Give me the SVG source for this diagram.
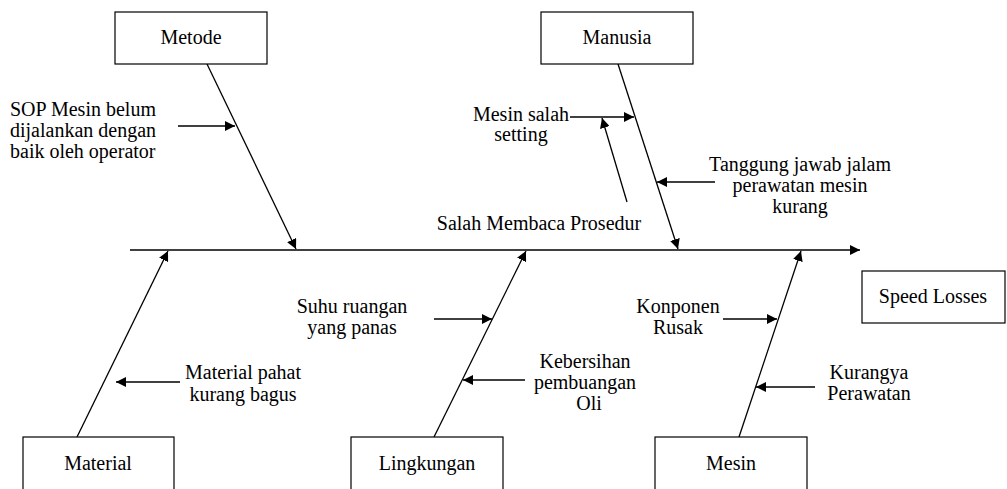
<svg xmlns="http://www.w3.org/2000/svg" width="1007" height="489" viewBox="0 0 1007 489">
<style>
.box{fill:#fff;stroke:#000;stroke-width:1.2}
text{font-family:'Liberation Serif','Tinos','Times New Roman','DejaVu Serif',serif;font-size:20px;fill:#000}
.m{text-anchor:middle}
.ln{stroke:#000;stroke-width:1.3;fill:none;marker-end:url(#ah)}
</style>
<defs>
<marker id="ah" viewBox="0 0 10 10" refX="10" refY="5" markerWidth="10" markerHeight="10" markerUnits="userSpaceOnUse" orient="auto">
<path d="M0,0 L10,5 L0,10 z" fill="#000"/>
</marker>
</defs>
<g id="connectors">
<line class="ln" x1="130" y1="250" x2="860" y2="250"/>
<line class="ln" x1="207" y1="64" x2="296" y2="249"/>
<line class="ln" x1="618" y1="64" x2="678" y2="249"/>
<line class="ln" x1="77" y1="437" x2="168" y2="251"/>
<line class="ln" x1="434" y1="437" x2="526" y2="251"/>
<line class="ln" x1="739" y1="437" x2="801" y2="251"/>
<line class="ln" x1="178" y1="126" x2="235" y2="126"/>
<line class="ln" x1="570" y1="117" x2="634" y2="117"/>
<line class="ln" x1="627" y1="202" x2="602" y2="118"/>
<line class="ln" x1="715" y1="182" x2="657" y2="182"/>
<line class="ln" x1="180" y1="382" x2="116" y2="382"/>
<line class="ln" x1="434" y1="319" x2="492" y2="319"/>
<line class="ln" x1="525" y1="380" x2="463" y2="380"/>
<line class="ln" x1="723" y1="319" x2="777" y2="319"/>
<line class="ln" x1="815" y1="387" x2="756" y2="387"/>
</g>
<g id="metode"><rect class="box" x="115" y="12" width="152" height="52"/><text class="m" x="191" y="44">Metode</text></g>
<g id="manusia"><rect class="box" x="541" y="12" width="152" height="52"/><text class="m" x="617" y="44">Manusia</text></g>
<g id="material"><rect class="box" x="23" y="437" width="151" height="60"/><text class="m" x="98" y="470">Material</text></g>
<g id="lingkungan"><rect class="box" x="351" y="437" width="152" height="60"/><text class="m" x="427" y="470">Lingkungan</text></g>
<g id="mesin"><rect class="box" x="655" y="437" width="152" height="60"/><text class="m" x="731" y="470">Mesin</text></g>
<g id="speed-losses"><rect class="box" x="862" y="271" width="143" height="52"/><text class="m" x="933" y="303">Speed Losses</text></g>
<g id="sop"><text x="10" y="116">SOP Mesin belum</text><text x="10" y="137">dijalankan dengan</text><text x="10" y="158">baik oleh operator</text></g>
<g id="mesin-salah"><text class="m" x="521" y="121">Mesin salah</text><text class="m" x="521" y="141">setting</text></g>
<g id="salah-membaca"><text class="m" x="539" y="230">Salah Membaca Prosedur</text></g>
<g id="tanggung"><text class="m" x="800" y="171">Tanggung jawab jalam</text><text class="m" x="800" y="192">perawatan mesin</text><text class="m" x="800" y="213">kurang</text></g>
<g id="suhu"><text class="m" x="352" y="313">Suhu ruangan</text><text class="m" x="352" y="334">yang panas</text></g>
<g id="material-pahat"><text class="m" x="243" y="379">Material pahat</text><text class="m" x="243" y="401">kurang bagus</text></g>
<g id="kebersihan"><text class="m" x="585" y="368">Kebersihan</text><text class="m" x="585" y="389">pembuangan</text><text class="m" x="589" y="410">Oli</text></g>
<g id="konponen"><text class="m" x="678" y="313">Konponen</text><text class="m" x="678" y="334">Rusak</text></g>
<g id="kurangya"><text class="m" x="869" y="379">Kurangya</text><text class="m" x="869" y="400">Perawatan</text></g>
</svg>
